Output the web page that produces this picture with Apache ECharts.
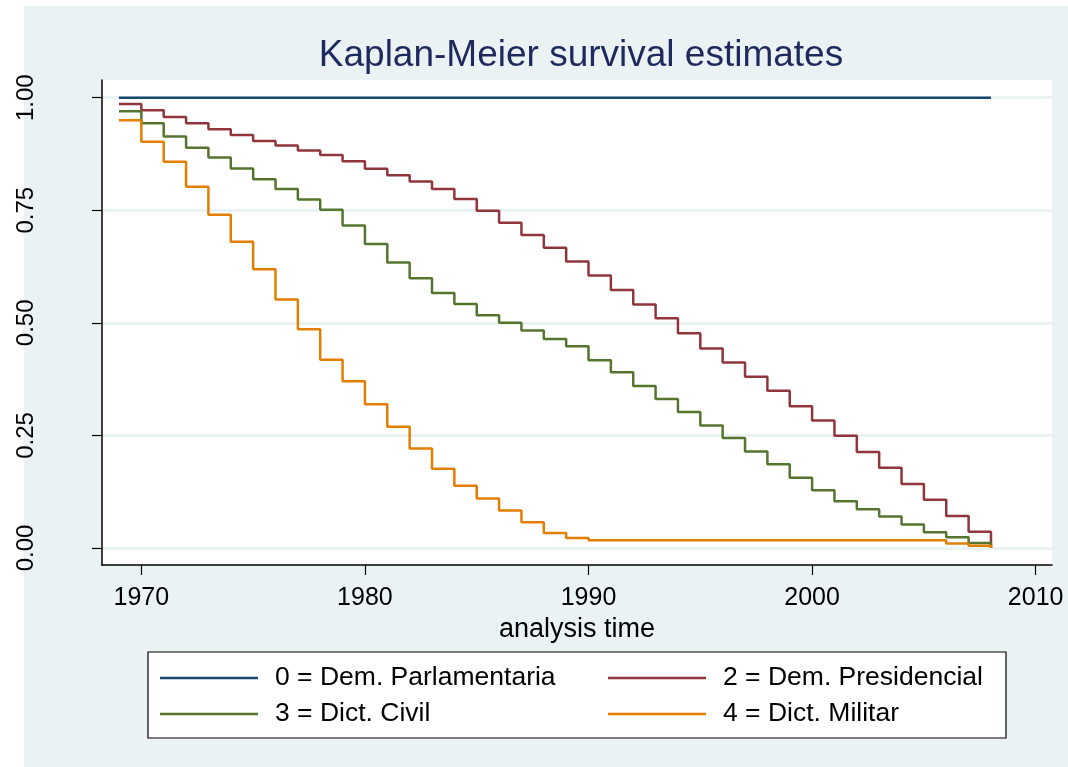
<!DOCTYPE html>
<html lang="en">
<head>
  <meta charset="UTF-8">
  <title>Kaplan-Meier survival estimates</title>
  <script src="https://cdn.jsdelivr.net/npm/echarts@6/dist/echarts.min.js"></script>
  <style>
    html, body { margin: 0; padding: 0; background: #fff; }
    #chart { width: 1068px; height: 767px; }
  </style>
</head>
<body>
  <div id="chart"></div>
  <script>
    // years of each step (value holds from that year to the next)
    const years = [1969, 1970, 1971, 1972, 1973, 1974, 1975, 1976, 1977, 1978,
                   1979, 1980, 1981, 1982, 1983, 1984, 1985, 1986, 1987, 1988,
                   1989, 1990, 1991, 1992, 1993, 1994, 1995, 1996, 1997, 1998,
                   1999, 2000, 2001, 2002, 2003, 2004, 2005, 2006, 2007, 2008];

    const demParlamentaria = [1, 1, 1, 1, 1, 1, 1, 1, 1, 1,
                              1, 1, 1, 1, 1, 1, 1, 1, 1, 1,
                              1, 1, 1, 1, 1, 1, 1, 1, 1, 1,
                              1, 1, 1, 1, 1, 1, 1, 1, 1, 1];

    const demPresidencial = [0.986, 0.972, 0.957, 0.943, 0.930, 0.917, 0.904, 0.894, 0.883, 0.873,
                             0.859, 0.842, 0.828, 0.814, 0.797, 0.775, 0.749, 0.722, 0.695, 0.667,
                             0.636, 0.605, 0.573, 0.541, 0.510, 0.477, 0.443, 0.412, 0.380, 0.349,
                             0.315, 0.283, 0.249, 0.213, 0.178, 0.142, 0.107, 0.071, 0.036, 0.000];

    const dictCivil = [0.970, 0.943, 0.914, 0.889, 0.867, 0.843, 0.819, 0.797, 0.774, 0.751,
                       0.716, 0.675, 0.634, 0.599, 0.566, 0.542, 0.517, 0.500, 0.483, 0.464,
                       0.448, 0.417, 0.390, 0.360, 0.331, 0.302, 0.272, 0.244, 0.214, 0.186,
                       0.156, 0.128, 0.104, 0.086, 0.070, 0.052, 0.035, 0.024, 0.011, 0.000];

    const dictMilitar = [0.950, 0.902, 0.858, 0.802, 0.740, 0.680, 0.619, 0.552, 0.486, 0.418,
                         0.370, 0.319, 0.269, 0.221, 0.176, 0.138, 0.110, 0.083, 0.057, 0.033,
                         0.022, 0.017, 0.017, 0.017, 0.017, 0.017, 0.017, 0.017, 0.017, 0.017,
                         0.017, 0.017, 0.017, 0.017, 0.017, 0.017, 0.017, 0.010, 0.005, 0.000];

    const xTicks = [1970, 1980, 1990, 2000, 2010];
    const yTicks = [0, 0.25, 0.5, 0.75, 1];

    const names = ['0 = Dem. Parlamentaria', '2 = Dem. Presidencial', '3 = Dict. Civil', '4 = Dict. Militar'];
    const colors = ['#1a476f', '#90353b', '#55752f', '#e37e00'];
    const values = [demParlamentaria, demPresidencial, dictCivil, dictMilitar];

    const font = 'Liberation Sans, Arial, sans-serif';

    const chart = echarts.init(document.getElementById('chart'));

    const legendText = {
      color: '#000', fontFamily: font, fontSize: 26.5,
      width: 300, lineHeight: 30, padding: [0, 0, 0, 12]
    };

    const option = {
      backgroundColor: '#ffffff',
      animation: false,
      title: {
        text: 'Kaplan-Meier survival estimates',
        left: 581,
        top: 37,
        padding: 0,
        textAlign: 'center',
        textStyle: { color: '#1e2a5e', fontFamily: font, fontSize: 37, fontWeight: 'normal' }
      },
      graphic: [
        { type: 'rect', z: -10, silent: true, shape: { x: 24, y: 6, width: 1044, height: 761 },
          style: { fill: '#eaf2f3' } },
        { type: 'rect', z: 0, silent: true, shape: { x: 148, y: 652, width: 858, height: 86 },
          style: { fill: '#ffffff', stroke: '#000', lineWidth: 1.2 } }
      ],
      legend: [
        { data: names.slice(0, 2), left: 160, top: 663, padding: 0, itemGap: 33,
          icon: 'rect', itemWidth: 98, itemHeight: 2.5, textStyle: legendText },
        { data: names.slice(2, 4), left: 160, top: 699, padding: 0, itemGap: 33,
          icon: 'rect', itemWidth: 98, itemHeight: 2.5, textStyle: legendText }
      ],
      grid: {
        left: 102, right: 16, top: 80, bottom: 202,
        show: true, backgroundColor: '#ffffff', borderWidth: 0
      },
      xAxis: {
        type: 'value',
        min: 1968.24,
        max: 2010.73,
        name: 'analysis time',
        nameLocation: 'middle',
        nameGap: 42,
        nameTextStyle: { color: '#000', fontFamily: font, fontSize: 27 },
        axisLine: { show: true, onZero: false, lineStyle: { color: '#000', width: 1.5 } },
        axisTick: { show: true, length: 10, customValues: xTicks, lineStyle: { color: '#000', width: 1.2 } },
        axisLabel: {
          customValues: xTicks, margin: 21, color: '#000', fontFamily: font, fontSize: 25,
          formatter: v => String(v)
        },
        splitLine: { show: false }
      },
      yAxis: {
        type: 'value',
        min: -0.0378,
        max: 1.0393,
        axisLine: { show: true, onZero: false, lineStyle: { color: '#000', width: 1.5 } },
        axisTick: { show: true, length: 10, customValues: yTicks, lineStyle: { color: '#000', width: 1.2 } },
        axisLabel: {
          customValues: yTicks, rotate: 90, margin: 64,
          color: '#000', fontFamily: font, fontSize: 24,
          formatter: v => v.toFixed(2)
        },
        splitLine: { show: true, lineStyle: { color: '#eaf2f3', width: 3 } }
      },
      series: names.map((name, i) => ({
        name: name,
        type: 'line',
        step: 'end',
        showSymbol: false,
        symbol: 'none',
        data: years.map((y, j) => [y, values[i][j]]),
        lineStyle: { color: colors[i], width: 2.5 },
        itemStyle: { color: colors[i] }
      }))
    };

    chart.setOption(option);
  </script>
</body>
</html>
